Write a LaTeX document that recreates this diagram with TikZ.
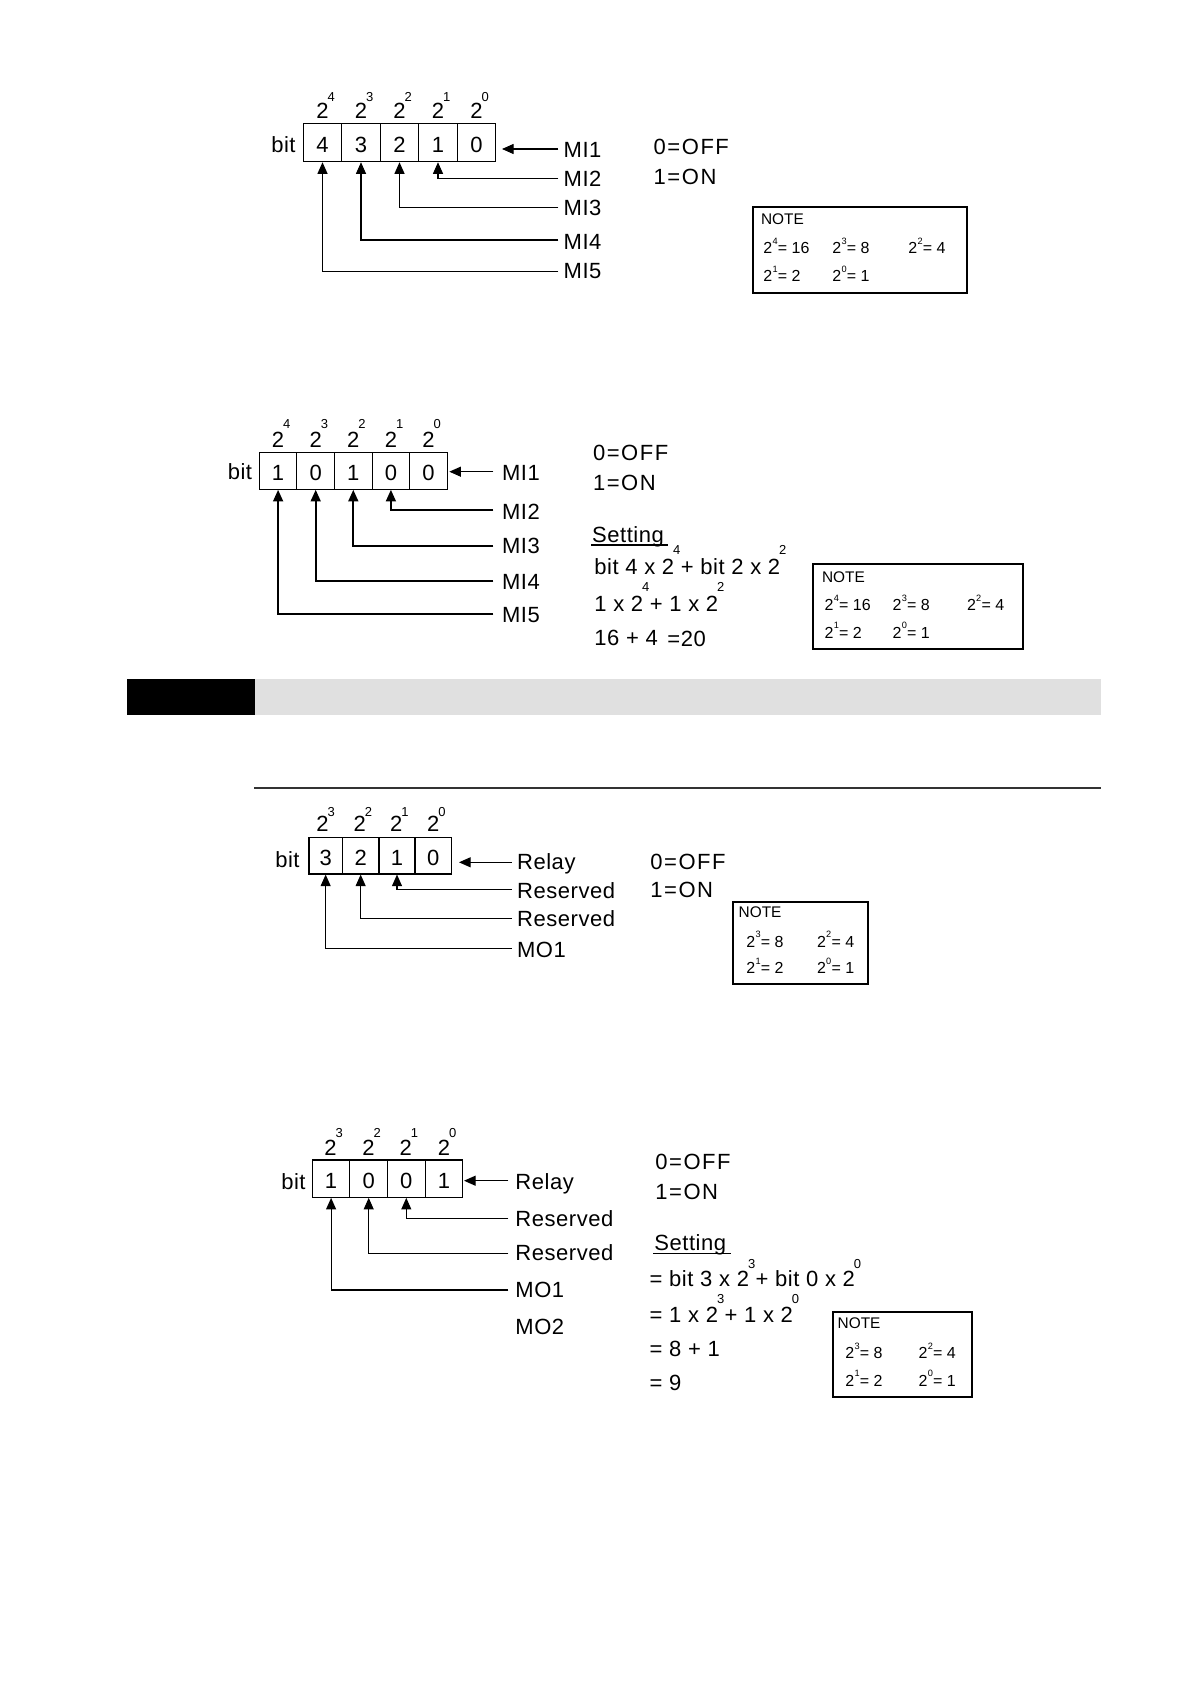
\documentclass[tikz,border=0pt]{standalone}
\usepackage{fontspec}
\setmainfont{Liberation Sans}[LetterSpace=2.5]
\newfontfamily\notefont{Liberation Sans}
\newfontfamily\widefont{Liberation Sans}[LetterSpace=7]
\usetikzlibrary{arrows.meta}
\newcommand\pwr[2][8.7pt]{\rlap{\kern-0.5pt\raisebox{#1}{\notefont\fontsize{6.5}{7}\selectfont #2}}}
\newcommand\npw[1]{\kern0.1pt\raisebox{4.6pt}{\fontsize{4.6}{5}\selectfont #1}\kern0.1pt}
\begin{document}
\begin{tikzpicture}[x=0.5pt,y=-0.5pt,
  cellbox/.style={draw=black, line width=0.55pt, inner sep=0pt, text height=10pt, text depth=0pt, font=\fontsize{11}{13}\selectfont},
  lbl/.style={anchor=base west, inner sep=0pt, font=\fontsize{11}{13}\selectfont},
  bitlbl/.style={anchor=base east, inner sep=0pt, font=\fontsize{11}{13}\selectfont},
  head/.style={anchor=base, inner sep=0pt, font=\fontsize{11}{13}\selectfont},
  onoff/.style={anchor=base west, inner sep=0pt, font=\widefont\fontsize{11}{13}\selectfont},
  notetxt/.style={anchor=base west, inner sep=0pt, font=\notefont\fontsize{8}{9}\selectfont},
  notehd/.style={anchor=base west, inner sep=0pt, font=\notefont\fontsize{7.7}{9}\selectfont},
  notebox/.style={draw=black, line width=0.85pt},
  conn/.style={line width=0.55pt, -{Triangle[length=5.8pt,width=5pt]}},
  thickconn/.style={conn, line width=0.85pt},
]
\useasboundingbox (0,0) rectangle (1191,1684);
\fill[white] (0,0) rectangle (1191,1684);

% ================= Section 1 =================
\foreach \n/\x in {4/322.5,3/361,2/399.5,1/438,0/476.5}{
  \node[cellbox, minimum width=19.25pt, minimum height=19.2pt] (a\n) at (\x,142.5) {\n};
  \node[head] (ha\n) at (\x,119) {2\pwr[8.6pt]{\n}};
}
\node[bitlbl] (abit) at (296,152.7) {bit};
\coordinate (am1) at (558.3,149);
\coordinate (at1) at (502,149);
\coordinate (am2) at (558.3,178.3);
\coordinate (am3) at (558.3,207.7);
\coordinate (am4) at (558.3,240);
\coordinate (am5) at (558.3,271.7);
\draw[conn] (am1) -- (at1);
\draw[conn] (am2) -| (a1.south);
\draw[conn] (am3) -| (a2.south);
\draw[conn] (am4) -| (a3.south);
\draw[conn] (am5) -| (a4.south);
\node[lbl] (aMI1) at (563.3,157.5) {MI1};
\node[lbl] (aMI2) at (563.3,186.5) {MI2};
\node[lbl] (aMI3) at (563.3,215.8) {MI3};
\node[lbl] (aMI4) at (563.3,249.8) {MI4};
\node[lbl] (aMI5) at (563.3,278.2) {MI5};
\node[onoff] (aoff) at (653.3,154.2) {0=OFF};
\node[onoff] (aon) at (653.3,184.2) {1=ON};
\draw[notebox] (752.7,206.7) rectangle (966.7,292.7);
\node[notehd] (anote) at (760.7,224.8) {NOTE};
\node[notetxt] (an4) at (763,253.6) {2\npw{4}= 16};
\node[notetxt] (an3) at (832,253.6) {2\npw{3}= 8};
\node[notetxt] (an2) at (908,253.6) {2\npw{2}= 4};
\node[notetxt] (an1) at (763,281.3) {2\npw{1}= 2};
\node[notetxt] (an0) at (832,281.3) {2\npw{0}= 1};

% ================= Section 2 =================
\foreach \n/\v/\x in {4/1/278.1,3/0/315.7,2/1/353.3,1/0/390.9,0/0/428.5}{
  \node[cellbox, minimum width=18.8pt, minimum height=18.5pt] (b\n) at (\x,470.8) {\v};
  \node[head] (hb\n) at (\x,447.3) {2\pwr[9.4pt]{\n}};
}
\node[bitlbl] (bbit) at (252.5,479.2) {bit};
\coordinate (bm1) at (493.3,471.7);
\coordinate (bt1) at (449.3,471.7);
\coordinate (bm2) at (493.3,510);
\coordinate (bm3) at (493.3,545.7);
\coordinate (bm4) at (493.3,581);
\coordinate (bm5) at (493.3,614.3);
\draw[conn] (bm1) -- (bt1);
\draw[thickconn] (bm2) -| (b1.south);
\draw[thickconn] (bm3) -| (b2.south);
\draw[thickconn] (bm4) -| (b3.south);
\draw[thickconn] (bm5) -| (b4.south);
\node[lbl] (bMI1) at (501.7,480.5) {MI1};
\node[lbl] (bMI2) at (501.7,519.2) {MI2};
\node[lbl] (bMI3) at (501.7,553.5) {MI3};
\node[lbl] (bMI4) at (501.7,589.2) {MI4};
\node[lbl] (bMI5) at (501.7,622.5) {MI5};
\node[onoff] (boff) at (592.7,460.8) {0=OFF};
\node[onoff] (bon) at (592.7,490.8) {1=ON};
\node[lbl] (bset) at (591.7,542.5) {Setting};
\draw[line width=0.8pt] (591,544.8) -- (668,544.8);
\node[lbl] (bf1) at (594,574) {bit 4 x 2\pwr[10pt]{4} + bit 2 x 2\pwr[10pt]{2}};
\node[lbl] (bf2) at (594,611.7) {1 x 2\pwr[10pt]{4} + 1 x 2\pwr[10pt]{2}};
\node[lbl] (bf3) at (594,645) {16 + 4};
\node[lbl] (bf4) at (667,646.7) {=20};
\draw[notebox] (813.3,564.3) rectangle (1023.3,649.3);
\node[notehd] (bnote) at (821.7,582.2) {NOTE};
\node[notetxt] (bn4) at (824.3,610.3) {2\npw{4}= 16};
\node[notetxt] (bn3) at (892.3,610.3) {2\npw{3}= 8};
\node[notetxt] (bn2) at (966.7,610.3) {2\npw{2}= 4};
\node[notetxt] (bn1) at (824.3,638) {2\npw{1}= 2};
\node[notetxt] (bn0) at (892.3,638) {2\npw{0}= 1};

% ================= Section bar =================
\fill[black] (126.7,679) rectangle (255,715);
\fill[black!12] (255,679) rectangle (1100.7,714.5);
\draw[line width=0.65pt, black!80] (254,788) -- (1100.7,788);

% ================= Section 3 =================
\node[cellbox, minimum width=16.65pt, minimum height=18.15pt] (c3) at (325.65,855.85) {3};
\node[cellbox, minimum width=18.35pt, minimum height=18.15pt] (c2) at (360.65,855.85) {2};
\node[cellbox, minimum width=18pt, minimum height=18.15pt] (c1) at (397,855.85) {1};
\node[cellbox, minimum width=18.35pt, minimum height=18.15pt] (c0) at (433.35,855.85) {0};
\node[head] (hc3) at (322.5,831.7) {2\pwr[7.6pt]{3}};
\node[head] (hc2) at (359.7,831.7) {2\pwr[7.6pt]{2}};
\node[head] (hc1) at (396.3,831.7) {2\pwr[7.6pt]{1}};
\node[head] (hc0) at (433.3,831.7) {2\pwr[7.6pt]{0}};
\node[bitlbl] (cbit) at (300,867.5) {bit};
\coordinate (cm1) at (511.7,862.3);
\coordinate (ct1) at (459,862.3);
\coordinate (cm2) at (511.7,889.3);
\coordinate (cm3) at (511.7,918.3);
\coordinate (cm4) at (511.7,948.3);
\draw[conn] (cm1) -- (ct1);
\draw[conn] (cm2) -| (c1.south);
\draw[conn] (cm3) -| (c2.south);
\draw[conn] (cm4) -| (c3.south);
\node[lbl] (cR) at (516.7,869.2) {Relay};
\node[lbl] (cRs1) at (516.7,898.2) {Reserved};
\node[lbl] (cRs2) at (516.7,926.5) {Reserved};
\node[lbl] (cMO1) at (516.7,957.5) {MO1};
\node[onoff] (coff) at (650,869.2) {0=OFF};
\node[onoff] (con) at (650,897.5) {1=ON};
\draw[notebox] (733.3,901.7) rectangle (868.3,984);
\node[notehd] (cnote) at (738.3,917.2) {NOTE};
\node[notetxt] (cn3) at (746,947) {2\npw{3}= 8};
\node[notetxt] (cn2) at (816.7,947) {2\npw{2}= 4};
\node[notetxt] (cn1) at (746,973.6) {2\npw{1}= 2};
\node[notetxt] (cn0) at (816.7,973.6) {2\npw{0}= 1};

% ================= Section 4 =================
\foreach \n/\v/\x/\hx in {3/1/331.1/330.5,2/0/368.7/368.5,1/0/406.3/405.8,0/1/443.9/444}{
  \node[cellbox, minimum width=18.8pt, minimum height=18.65pt] (d\n) at (\x,1178.65) {\v};
  \node[head] (hd\n) at (\hx,1155) {2\pwr[8.8pt]{\n}};
}
\node[bitlbl] (dbit) at (306,1189.2) {bit};
\coordinate (dm1) at (508.3,1180.7);
\coordinate (dt1) at (464,1180.7);
\coordinate (dm2) at (508.3,1218.3);
\coordinate (dm3) at (508.3,1253.3);
\coordinate (dm4) at (508.3,1290);
\draw[conn] (dm1) -- (dt1);
\draw[conn] (dm2) -| (d1.south);
\draw[conn] (dm3) -| (d2.south);
\draw[conn] (dm4) -| (d3.south);
\node[lbl] (dR) at (515,1189.2) {Relay};
\node[lbl] (dRs1) at (515,1226.8) {Reserved};
\node[lbl] (dRs2) at (515,1260.8) {Reserved};
\node[lbl] (dMO1) at (515,1297.5) {MO1};
\node[lbl] (dMO2) at (515,1334.2) {MO2};
\node[onoff] (doff) at (655,1169.2) {0=OFF};
\node[onoff] (don) at (655,1199.2) {1=ON};
\node[lbl] (dset) at (654,1250.8) {Setting};
\draw[line width=0.8pt] (653,1253.5) -- (730.7,1253.5);
\node[lbl] (df1) at (649.3,1286.8) {= bit 3 x 2\pwr[9.3pt]{3} + bit 0 x 2\pwr[9.3pt]{0}};
\node[lbl] (df2) at (649.3,1322.5) {= 1 x 2\pwr[9.6pt]{3} + 1 x 2\pwr[9.6pt]{0}};
\node[lbl] (df3) at (649.3,1356.8) {= 8 + 1};
\node[lbl] (df4) at (649.3,1390.8) {= 9};
\draw[notebox] (832.7,1312.3) rectangle (971.7,1397.3);
\node[notehd] (dnote) at (837.3,1328.2) {NOTE};
\node[notetxt] (dn3) at (845,1358.6) {2\npw{3}= 8};
\node[notetxt] (dn2) at (918.3,1358.6) {2\npw{2}= 4};
\node[notetxt] (dn1) at (845,1386) {2\npw{1}= 2};
\node[notetxt] (dn0) at (918.3,1386) {2\npw{0}= 1};
\end{tikzpicture}
\end{document}
